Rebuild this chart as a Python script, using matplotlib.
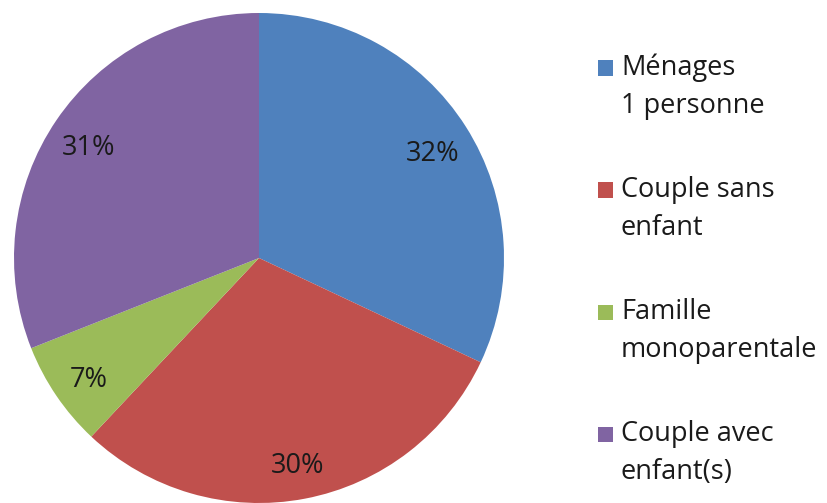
import matplotlib
matplotlib.use("Agg")
import matplotlib.pyplot as plt
from matplotlib.patches import Rectangle

categories = ["Ménages\n1 personne", "Couple sans\nenfant", "Famille\nmonoparentale", "Couple avec\nenfant(s)"]
values = [32, 30, 7, 31]
colors = ["#4F81BD", "#C0504D", "#9BBB59", "#8064A2"]

W, H = 827, 503
fig = plt.figure(figsize=(W / 100, H / 100), dpi=100)
plt.rcParams['font.family'] = ['Open Sans', 'DejaVu Sans']

cx, cy, r = 259, 258, 245
ax = fig.add_axes([(cx - r) / W, (H - cy - r) / H, 2 * r / W, 2 * r / H])
wedges, texts, autotexts = ax.pie(values, colors=colors, startangle=90, counterclock=False,
       autopct=lambda p: f"{p:.0f}%", pctdistance=0.84, radius=1,
       textprops=dict(fontsize=19.5, color="#1a1a1a"),
       wedgeprops=dict(linewidth=0))
for t in autotexts:
    x, y = t.get_position()
    t.set_position((x, y - 6 / r))
ax.set_xlim(-1, 1)
ax.set_ylim(-1, 1)
ax.set_aspect('equal')
ax.axis('off')

# legend
ys = [68, 190, 312, 434]
for lab, col, y in zip(categories, colors, ys):
    fig.patches.append(Rectangle((598 / W, (H - y - 7.5) / H), 15 / W, 15 / H,
                                 transform=fig.transFigure, facecolor=col, edgecolor='none'))
    for i, line in enumerate(lab.split("\n")):
        fig.text(621 / W, (H - (y + 7 + 38 * i)) / H, line, fontsize=19.5, color="#1a1a1a",
                 va='baseline', ha='left')

fig.savefig("out.png", dpi=100)
